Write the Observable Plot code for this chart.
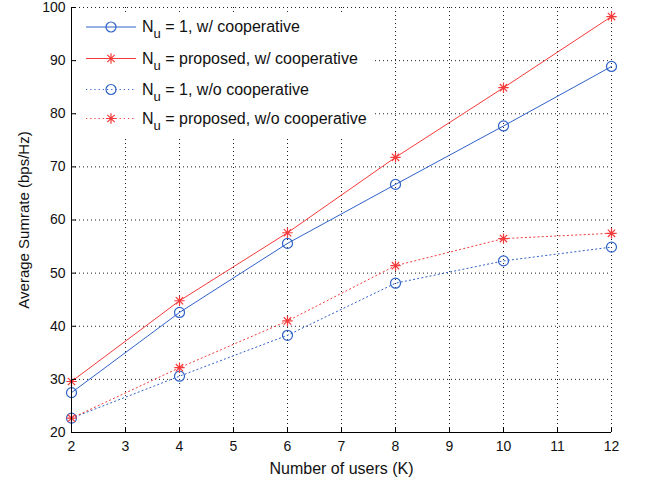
<!DOCTYPE html>
<html>
<head>
<meta charset="utf-8">
<script src="https://cdn.jsdelivr.net/npm/d3@7"></script>
<script src="https://cdn.jsdelivr.net/npm/@observablehq/plot@0.6"></script>
<style>
  html, body { margin: 0; padding: 0; background: #fff; }
  #wrap { position: relative; width: 647px; height: 481px; }
  #legend { position: absolute; }
</style>
</head>
<body>
<div id="wrap"></div>
<script>
const users = [2, 4, 6, 8, 10, 12];
const nu1Coop = [27.5, 42.6, 55.6, 66.7, 77.7, 88.9];
const propCoop = [29.6, 44.8, 57.6, 71.8, 84.9, 98.3];
const nu1NoCoop = [22.7, 30.6, 38.3, 48.1, 52.3, 54.9];
const propNoCoop = [22.7, 32.2, 41.0, 51.4, 56.5, 57.5];
const xTicks = [2, 3, 4, 5, 6, 7, 8, 9, 10, 11, 12];
const yTicks = [20, 30, 40, 50, 60, 70, 80, 90, 100];
const seriesNames = ["Nu = 1, w/ cooperative", "Nu = proposed, w/ cooperative", "Nu = 1, w/o cooperative", "Nu = proposed, w/o cooperative"];

const BLUE = "#2f62c8";
const RED = "#f43a3a";

const series = [
  {name: seriesNames[0], values: nu1Coop, color: BLUE, dash: null, marker: "circle"},
  {name: seriesNames[1], values: propCoop, color: RED, dash: null, marker: "star"},
  {name: seriesNames[2], values: nu1NoCoop, color: BLUE, dash: "1.2,3", marker: "circle"},
  {name: seriesNames[3], values: propNoCoop, color: RED, dash: "1.2,3", marker: "star"}
];

const star = {
  draw(ctx, size) {
    const r = Math.sqrt(size / Math.PI);
    const d = r * 0.7071;
    ctx.moveTo(-r, 0); ctx.lineTo(r, 0);
    ctx.moveTo(0, -r); ctx.lineTo(0, r);
    ctx.moveTo(-d, -d); ctx.lineTo(d, d);
    ctx.moveTo(-d, d); ctx.lineTo(d, -d);
  }
};

const W = 647, H = 481;
const mL = 71, mR = 36, mT = 7, mB = 49;
const fw = W - mL - mR, fh = H - mT - mB;

const marks = [
  Plot.ruleX(xTicks, {x: d => d, stroke: "#222", strokeDasharray: "1,3", strokeWidth: 1}),
  Plot.ruleY(yTicks, {y: d => d, stroke: "#222", strokeDasharray: "1,3", strokeWidth: 1}),
];
for (const s of series) {
  const data = users.map((u, i) => ({x: u, y: s.values[i]}));
  marks.push(Plot.line(data, {x: "x", y: "y", stroke: s.color, strokeWidth: 1, strokeDasharray: s.dash}));
  if (s.marker === "circle") {
    marks.push(Plot.dot(data, {x: "x", y: "y", r: 5, stroke: s.color, fill: "none", strokeWidth: 1.2}));
  } else {
    marks.push(Plot.dot(data, {x: "x", y: "y", r: 5.2, symbol: star, stroke: s.color, fill: "none", strokeWidth: 1.2}));
  }
}
marks.push(
  Plot.tickX(xTicks, {x: d => d, stroke: "#000", insetTop: fh - 5}),
  Plot.tickY(yTicks, {y: d => d, stroke: "#000", insetRight: fw - 5}),
  Plot.ruleX([2], {stroke: "#000"}),
  Plot.ruleY([20], {stroke: "#000"}),
  Plot.axisX(xTicks, {tickSize: 0, tickPadding: 9, fontSize: 14, label: null}),
  Plot.axisY(yTicks, {tickSize: 0, tickPadding: 6, fontSize: 14, label: null}),
  Plot.axisX({ticks: [], tickSize: 0, fontSize: 16, label: "Number of users (K)", labelAnchor: "center", labelArrow: "none", labelOffset: 41}),
  Plot.axisY({ticks: [], tickSize: 0, fontSize: 15, label: "Average Sumrate (bps/Hz)", labelAnchor: "center", labelArrow: "none", labelOffset: 53})
);

const chart = Plot.plot({
  width: W, height: H,
  marginLeft: mL, marginRight: mR, marginTop: mT, marginBottom: mB,
  x: {domain: [2, 12]},
  y: {domain: [20, 100]},
  style: {fontFamily: "'Liberation Sans', Arial, sans-serif", fontSize: "13px", background: "#fff", color: "#111"},
  marks
});
document.getElementById("wrap").appendChild(chart);

// Legend overlay
const ns = "http://www.w3.org/2000/svg";
const leg = document.createElementNS(ns, "svg");
leg.setAttribute("id", "legend");
leg.setAttribute("width", 296);
leg.setAttribute("height", 124);
leg.style.left = "77px";
leg.style.top = "12px";
leg.style.fontFamily = "'Liberation Sans', Arial, sans-serif";
leg.style.fontSize = "16px";
const bg = document.createElementNS(ns, "rect");
bg.setAttribute("width", 296); bg.setAttribute("height", 124); bg.setAttribute("fill", "#fff");
leg.appendChild(bg);
const rowY = [15, 46.5, 77.5, 106.5];
series.forEach((s, i) => {
  const y = rowY[i];
  const ln = document.createElementNS(ns, "line");
  ln.setAttribute("x1", 9); ln.setAttribute("x2", 59); ln.setAttribute("y1", y); ln.setAttribute("y2", y);
  ln.setAttribute("stroke", s.color); ln.setAttribute("stroke-width", 1);
  if (s.dash) ln.setAttribute("stroke-dasharray", s.dash);
  leg.appendChild(ln);
  const mk = document.createElementNS(ns, "path");
  if (s.marker === "circle") {
    mk.setAttribute("d", d3.symbol(d3.symbolCircle, Math.PI * 25)());
  } else {
    mk.setAttribute("d", d3.symbol(star, Math.PI * 5.2 * 5.2)());
  }
  mk.setAttribute("transform", `translate(34,${y})`);
  mk.setAttribute("fill", "none"); mk.setAttribute("stroke", s.color); mk.setAttribute("stroke-width", 1.2);
  leg.appendChild(mk);
  const t = document.createElementNS(ns, "text");
  t.setAttribute("x", 65); t.setAttribute("y", y + 5);
  t.setAttribute("fill", "#111");
  const parts = s.name.split(/^Nu/);
  const n = document.createElementNS(ns, "tspan"); n.textContent = "N";
  const sub = document.createElementNS(ns, "tspan"); sub.textContent = "u"; sub.setAttribute("dy", 6); sub.setAttribute("font-size", "13px");
  const rest = document.createElementNS(ns, "tspan"); rest.textContent = parts[1]; rest.setAttribute("dy", -6);
  t.appendChild(n); t.appendChild(sub); t.appendChild(rest);
  leg.appendChild(t);
});
document.getElementById("wrap").appendChild(leg);
</script>
</body>
</html>
